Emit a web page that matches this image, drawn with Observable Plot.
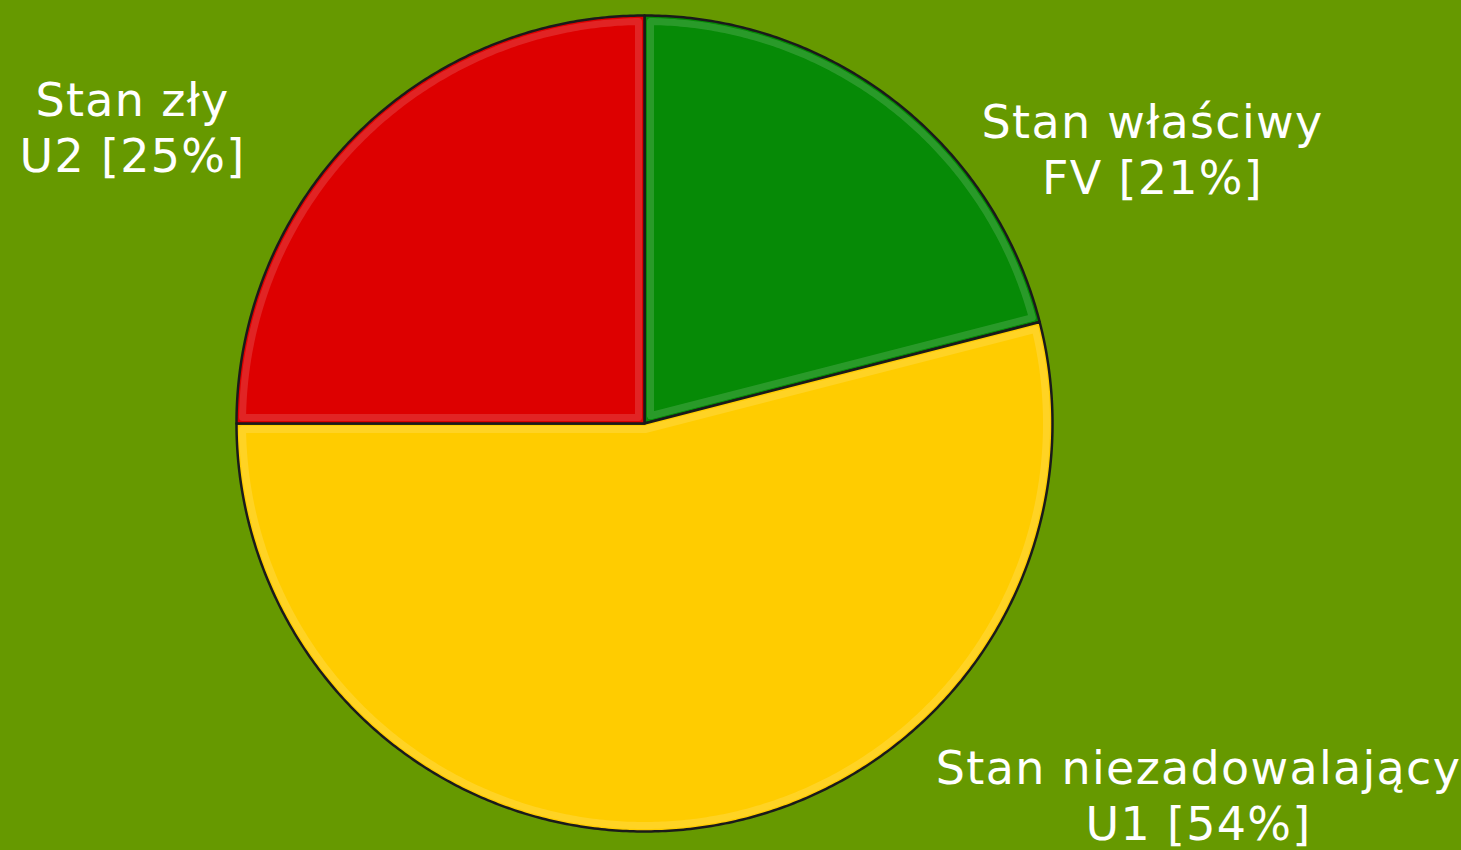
<!DOCTYPE html>
<html>
<head>
<meta charset="utf-8">
<script src="https://cdn.jsdelivr.net/npm/d3@7"></script>
<script src="https://cdn.jsdelivr.net/npm/@observablehq/plot@0.6"></script>
<style>
  html, body { margin: 0; padding: 0; background: #669900; }
  #chart svg text { letter-spacing: 1.3px; }
</style>
</head>
<body>
<div id="chart"></div>
<script>
// ---- data ----
const categories = ["Stan właściwy", "Stan niezadowalający", "Stan zły"];
const codes = ["FV", "U1", "U2"];
const values = [21, 54, 25];
const colors = ["#068a06", "#ffcc00", "#dd0000"];

// ---- layout ----
const W = 1461, H = 850;
const cx = 644, cy = 423, R = 408;           // pie centre and radius (px)
const labelPos = [                          // label centre x, first-line baseline y (px)
  {x: 1152, y: 137},
  {x: 1198, y: 783},
  {x: 132,  y: 115}
];
const lineGap = 56, fontSize = 46;

// build slice outlines from cumulative values (angles clockwise from 12 o'clock)
const total = d3.sum(values);
const slices = [];
const rims = [];
let acc = 0;
values.forEach((v, i) => {
  const a0 = acc / total * 2 * Math.PI;
  acc += v;
  const a1 = acc / total * 2 * Math.PI;
  slices.push({key: categories[i], x: 0, y: 0});
  const n = Math.max(2, Math.ceil((a1 - a0) / (Math.PI / 360)));
  const inset = 6, rr = R - inset;
  const da = inset / rr;
  // inset outline for a bevel highlight
  const mid = (a0 + a1) / 2;
  const off = inset / Math.sin((a1 - a0) / 2);
  rims.push({key: categories[i], x: off * Math.sin(mid), y: off * Math.cos(mid)});
  for (let k = 0; k <= n; k++) {
    const a = a0 + (a1 - a0) * k / n;
    slices.push({key: categories[i], x: R * Math.sin(a), y: R * Math.cos(a)});
    const b = a0 + da + (a1 - a0 - 2 * da) * k / n;
    rims.push({key: categories[i], x: rr * Math.sin(b), y: rr * Math.cos(b)});
  }
});

const labels = [];
categories.forEach((c, i) => {
  const p = labelPos[i];
  const mid = fontSize * 0.32;
  labels.push({text: c, x: p.x - cx, y: cy - (p.y - mid)});
  labels.push({text: `${codes[i]} [${values[i]}%]`, x: p.x - cx, y: cy - (p.y + lineGap - mid)});
});

const chart = Plot.plot({
  width: W,
  height: H,
  margin: 0,
  style: {background: "#669900", fontFamily: "DejaVu Sans, Verdana, sans-serif"},
  x: {domain: [-cx, W - cx], axis: null},
  y: {domain: [-(H - cy), cy], axis: null},
  color: {domain: categories, range: colors},
  marks: [
    Plot.line(slices, {x: "x", y: "y", z: "key", fill: "key", stroke: "#1a1a1a", strokeWidth: 2.5, curve: "linear-closed", strokeLinejoin: "round"}),
    Plot.line(rims, {x: "x", y: "y", z: "key", stroke: "#ffffff", strokeOpacity: 0.14, strokeWidth: 7, curve: "linear-closed", strokeLinejoin: "round"}),
    Plot.text(labels, {x: "x", y: "y", text: "text", fill: "white", fontSize: fontSize, textAnchor: "middle", lineAnchor: "middle"})
  ]
});
document.getElementById("chart").append(chart);
</script>
</body>
</html>
